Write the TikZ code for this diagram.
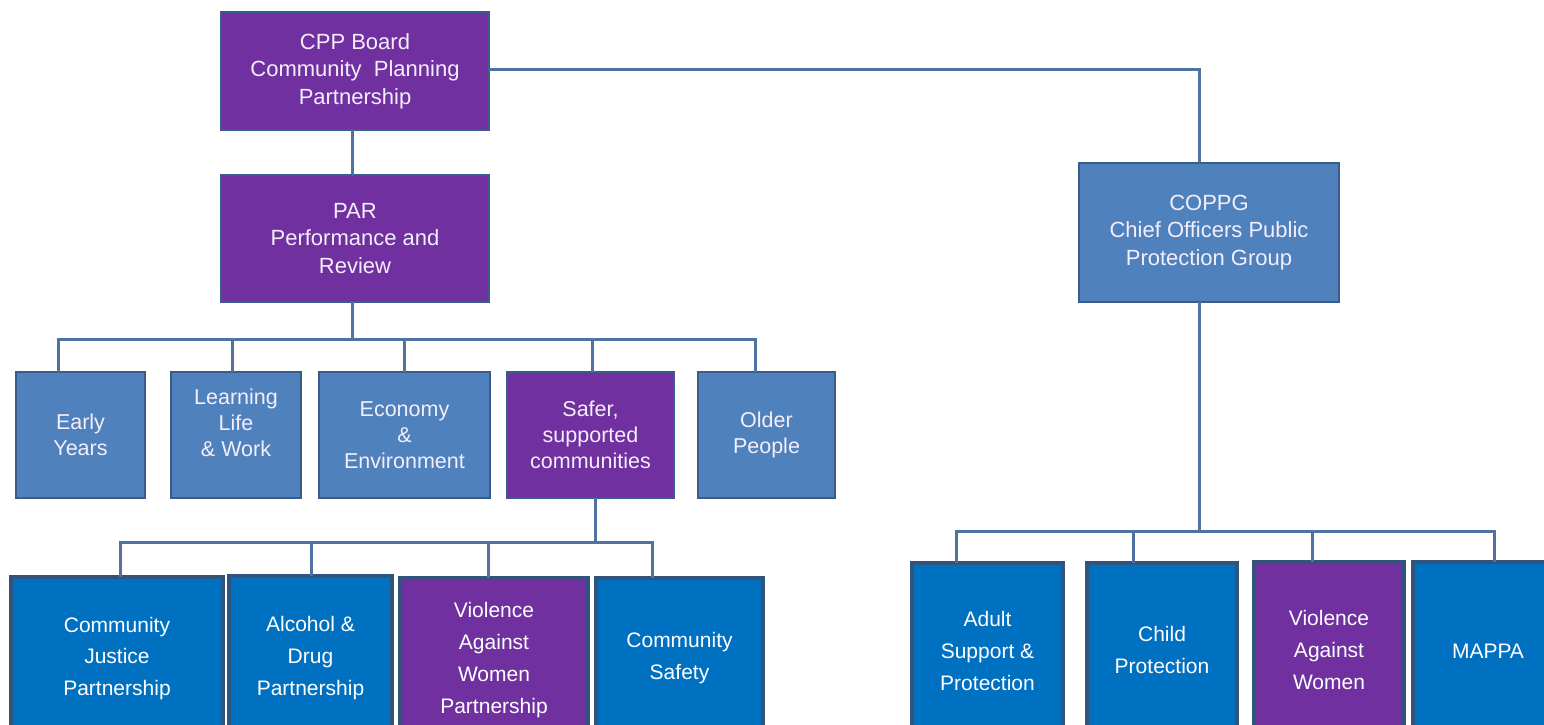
\documentclass[tikz,border=0pt]{standalone}
\usepackage{fontspec}
\setmainfont{Liberation Sans}
\definecolor{purp}{HTML}{7030A0}
\definecolor{steel}{HTML}{4F81BD}
\definecolor{bblue}{HTML}{0070C0}
\definecolor{edge}{HTML}{385D8A}
\definecolor{conn}{HTML}{5072A0}
\definecolor{txt}{HTML}{F4EEFA}
\begin{document}
\begin{tikzpicture}[x=1pt,y=-1pt,
  box/.style={draw=edge, line width=2pt, inner sep=0pt, outer sep=0pt, align=center,
    text=txt, anchor=north west},
  topbox/.style={box, font=\fontsize{22}{27.5}\selectfont},
  midbox/.style={box, fill=steel, font=\fontsize{21.5}{26}\selectfont},
  lowbox/.style={box, line width=4pt, draw=edge!90!black, fill=bblue, text=white, font=\fontsize{21}{31.8}\selectfont},
  conn/.style={draw=conn, line width=3pt}]
\useasboundingbox (0,0) rectangle (1544,725);
\clip (0,0) rectangle (1544,725);

% top level
\node[topbox, fill=purp, minimum width=268pt, minimum height=118pt] (cpp) at (221,12)
  {CPP Board\\Community\ \ Planning\\Partnership};
\node[topbox, fill=purp, minimum width=268pt, minimum height=127pt] (par) at (221,175)
  {PAR\\Performance and\\Review};
\node[topbox, fill=steel, minimum width=260pt, minimum height=139pt] (coppg) at (1079,163)
  {COPPG\\Chief Officers Public\\Protection Group};

% middle row
\node[midbox, minimum width=129pt, minimum height=126pt] (early) at (16,372) {Early\\Years};
\node[midbox, minimum width=130pt, minimum height=126pt] (learn) at (171,372) {};
\node[font=\fontsize{21.5}{26}\selectfont, text=txt, align=center] (learntxt) at ([yshift=12pt]learn.center)
  {Learning\\Life\\\& Work};
\node[midbox, minimum width=171pt, minimum height=126pt] (econ) at (319,372) {Economy\\\&\\Environment};
\node[midbox, fill=purp, minimum width=167pt, minimum height=126pt] (safer) at (507,372)
  {Safer,\\supported\\communities};
\node[midbox, minimum width=137pt, minimum height=126pt] (older) at (698,372) {Older\\People};

% bottom left row
\node[lowbox, minimum width=212pt, minimum height=163pt] (cjp) at (11,577)
  {Community\\Justice\\Partnership};
\node[lowbox, minimum width=163pt, minimum height=164pt] (adp) at (229,576)
  {Alcohol \&\\Drug\\Partnership};
\node[lowbox, fill=purp, minimum width=188pt, minimum height=164pt] (vawp) at (400,578)
  {Violence\\Against\\Women\\Partnership};
\node[lowbox, minimum width=167pt, minimum height=160pt] (cs) at (596,578)
  {Community\\Safety};

% bottom right row
\node[lowbox, minimum width=151pt, minimum height=176pt] (adult) at (912,563)
  {Adult\\Support \&\\Protection};
\node[lowbox, minimum width=150pt, minimum height=174pt] (child) at (1087,563)
  {Child\\Protection};
\node[lowbox, fill=purp, minimum width=150pt, minimum height=176pt] (vaw) at (1254,562)
  {Violence\\Against\\Women};
\node[lowbox, minimum width=150pt, minimum height=178pt] (mappa) at (1413,562)
  {MAPPA};

% bus coordinates
\coordinate (b1) at (352,339);
\coordinate (b2) at (595,542);
\coordinate (b3) at (1199,531);

% connectors
\draw[conn] ([xshift=-3pt]cpp.south) -- ([xshift=-3pt]par.north);
\draw[conn] ([yshift=1pt]cpp.east) -| ([xshift=-10pt]coppg.north);

\draw[conn] ([xshift=-3pt]par.south) -- (b1);
\draw[conn] ([xshift=42pt]early.north west) |- (b1) -| ([xshift=57pt]older.north west);
\draw[conn] ([xshift=61pt]learn.north west) -- ++(0,-33);
\draw[conn] ([xshift=85pt]econ.north west) -- ++(0,-33);
\draw[conn] ([xshift=85pt]safer.north west) -- ++(0,-33);

\draw[conn] ([xshift=88pt]safer.south west) -- (b2);
\draw[conn] ([xshift=109pt]cjp.north west) |- (b2) -| ([xshift=56pt]cs.north west);
\draw[conn] ([xshift=82pt]adp.north west) -- ++(0,-34);
\draw[conn] ([xshift=88pt]vawp.north west) -- ++(0,-36);

\draw[conn] ([xshift=-10pt]coppg.south) -- (b3);
\draw[conn] ([xshift=44pt]adult.north west) |- (b3) -| ([xshift=81pt]mappa.north west);
\draw[conn] ([xshift=46pt]child.north west) -- ++(0,-32);
\draw[conn] ([xshift=58pt]vaw.north west) -- ++(0,-31);
\end{tikzpicture}
\end{document}
